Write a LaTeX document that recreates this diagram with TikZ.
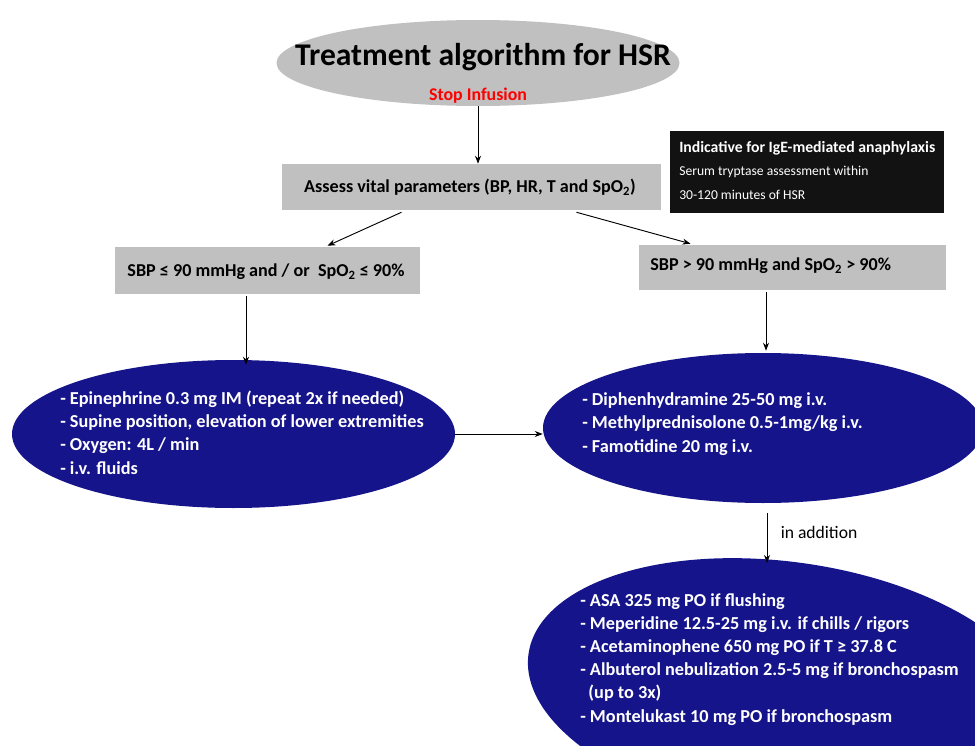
\documentclass[tikz,border=0pt]{standalone}
\usepackage{fontspec}
\setmainfont{Carlito}
\usetikzlibrary{arrows.meta,calc,shapes.geometric}
\definecolor{boxgray}{RGB}{192,192,192}
\definecolor{navyfill}{RGB}{22,20,138}
\definecolor{infoblack}{RGB}{18,18,18}
\begin{document}
\begin{tikzpicture}[x=0.75pt,y=-0.75pt,
  arr/.style={-{Stealth[length=6pt,width=4.5pt]}, line width=0.7pt, black},
  graybox/.style={rectangle, fill=boxgray, inner sep=0pt},
  navyell/.style={ellipse, fill=navyfill, inner sep=0pt},
  boxtext/.style={font=\bfseries\fontsize{13.6}{15}\selectfont, inner sep=0pt},
  elltext/.style={font=\bfseries\fontsize{13.7}{17.6}\selectfont, text=white, align=left, inner sep=0pt, anchor=west}]
\useasboundingbox (0,0) rectangle (975,746);
\clip (0,0) rectangle (975,746);
\fill[white] (0,0) rectangle (975,746);

% title
\node[ellipse, fill=boxgray, inner sep=0pt, minimum width=403*0.75pt, minimum height=86*0.75pt] (title) at (478,63) {};
\node[font=\bfseries\fontsize{23.7}{28}\selectfont, inner sep=0pt] (titletxt) at (483,57) {Treatment algorithm for HSR};
\node[font=\bfseries\fontsize{13.4}{15}\selectfont, text=red, inner sep=0pt] (stop) at (478,96) {Stop Infusion};

% assess
\node[graybox, minimum width=379*0.75pt, minimum height=46*0.75pt] (assess) at (471.5,187) {};
\node[boxtext] (assesstxt) at (470,187) {Assess vital parameters (BP, HR, T and SpO\textsubscript{2})};

% info box
\node[rectangle, fill=infoblack, inner sep=0pt, minimum width=274*0.75pt, minimum height=82*0.75pt] (info) at (807,172) {};
\node[font=\bfseries\fontsize{11.8}{13}\selectfont, text=white, anchor=west, inner sep=0pt] (info1) at (679,148) {Indicative for IgE-mediated anaphylaxis};
\node[font=\fontsize{10.2}{12}\selectfont, text=white, anchor=west, inner sep=0pt] (info2) at (679,172) {Serum tryptase assessment within};
\node[font=\fontsize{10.2}{12}\selectfont, text=white, anchor=west, inner sep=0pt] (info3) at (679,195) {30-120 minutes of HSR};

% condition boxes
\node[graybox, minimum width=305*0.75pt, minimum height=47*0.75pt] (lbox) at (267.5,270.5) {};
\node[boxtext] (lboxtxt) at (266,272) {SBP ≤ 90 mmHg and / or\ \ SpO\textsubscript{2} ≤ 90\%};
\node[graybox, minimum width=307*0.75pt, minimum height=45*0.75pt] (rbox) at (792.5,267.5) {};
\node[boxtext, anchor=west] (rboxtxt) at (650,266) {SBP > 90 mmHg and SpO\textsubscript{2} > 90\%};

% treatment ellipses
\node[navyell, minimum width=443*0.75pt, minimum height=148*0.75pt] (lell) at (233.5,434) {};
\node[elltext] (lelltxt) at (60,432.5) {- Epinephrine 0.3 mg IM (repeat 2x if needed)\\- Supine position, elevation of lower extremities\\- Oxygen: 4L / min\\- i.v. fluids};

\node[navyell, minimum width=520*0.75pt, minimum height=256*0.75pt, rotate=-8] (bell) at (786,690) {};
\node[elltext, font=\bfseries\fontsize{13.7}{17.3}\selectfont] (belltxt) at (580,659.5) {- ASA 325 mg PO if flushing\\- Meperidine 12.5-25 mg i.v. if chills / rigors\\- Acetaminophene 650 mg PO if T ≥ 37.8 C\\- Albuterol nebulization 2.5-5 mg if bronchospasm\\\hspace*{0.45em}(up to 3x)\\- Montelukast 10 mg PO if bronchospasm};

\node[navyell, minimum width=440*0.75pt, minimum height=150*0.75pt] (rell) at (763,428) {};
\node[elltext] (relltxt) at (582,424) {- Diphenhydramine 25-50 mg i.v.\\- Methylprednisolone 0.5-1mg/kg i.v.\\- Famotidine 20 mg i.v.};

% connector anchor points
\coordinate (lstart) at ($(lbox.south)+(-21.5,2)$);
\coordinate (ltop) at ($(lell.north)+(0,5)$);
\coordinate (rstart) at ($(rbox.south)+(-26.5,2)$);
\coordinate (rtop) at ($(rell.north)+(0,-2)$);
\coordinate (astart) at ($(rell.south)+(4,10)$);

% connectors
\draw[arr] (title.south) -- (title.south |- assess.north);
\draw[arr] ($(assess.south)+(-70,2)$) -- ($(lbox.north)+(60,-1)$);
\draw[arr] ($(assess.south)+(105,2)$) -- ($(rbox.north)+(-102,-1)$);
\draw[arr] (lstart) -- (lstart |- ltop);
\draw[arr] (rstart) -- (rstart |- rtop);
\draw[arr] (lell.east) -- (lell.east -| rell.west);
\draw[arr] (astart) -- (astart |- bell.north)
  node[pos=0.38, right=10pt, font=\fontsize{13.2}{15}\selectfont, inner sep=0pt] (addlbl) {in addition};
\end{tikzpicture}
\end{document}
